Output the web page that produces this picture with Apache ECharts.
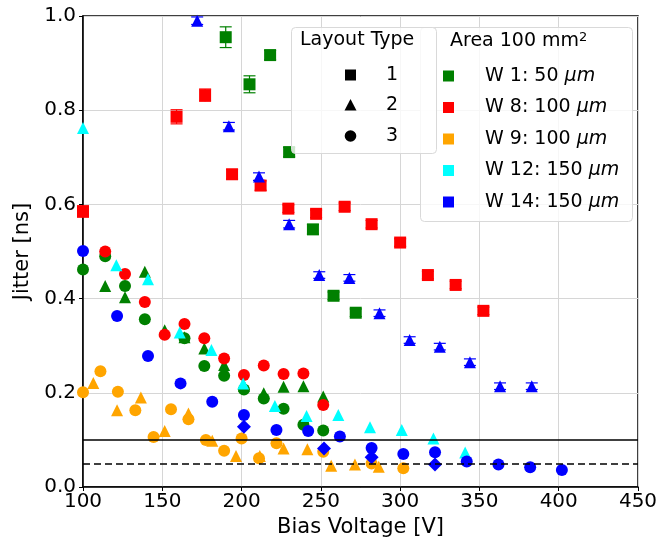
<!DOCTYPE html>
<html><head><meta charset="utf-8">
<script src="https://cdn.jsdelivr.net/npm/echarts@6/dist/echarts.min.js"></script>
<style>html,body{margin:0;padding:0;background:#fff}#c{width:661px;height:546px}</style>
</head><body><div id="c"></div>
<script>
// ---------- data ----------
const xTicks = [100,150,200,250,300,350,400,450];
const yTicks = [0.0,0.2,0.4,0.6,0.8,1.0];
const waferNames = ['W 1: 50', 'W 8: 100', 'W 9: 100', 'W 12: 150', 'W 14: 150'];
const waferColors = ['#008000', '#ff0000', '#ffa500', '#00ffff', '#0000ff'];
const layoutNames = ['1', '2', '3'];
const refLines = [0.1, 0.05];

// W1
const w1L1_V = [190, 205, 218, 230, 245, 258, 272];
const w1L1_J = [0.955, 0.855, 0.917, 0.711, 0.547, 0.406, 0.370];
const w1L1_E = [0.022, 0.018, 0.010, 0.010, 0.010, 0.008, 0.008];
const w1L2_V = [114, 126.5, 139, 151.5, 164, 176.5, 189, 201.5, 214, 226.5, 239, 251.5];
const w1L2_J = [0.427, 0.403, 0.457, 0.333, 0.318, 0.294, 0.259, 0.215, 0.199, 0.213, 0.214, 0.192];
const w1L3_V = [100, 114, 126.5, 139, 164, 176.5, 189, 201.5, 214, 226.5, 239, 251.5];
const w1L3_J = [0.462, 0.490, 0.427, 0.356, 0.316, 0.257, 0.236, 0.207, 0.188, 0.166, 0.132, 0.120];
// W8
const w8L1_V = [100, 159, 177, 194, 212, 229.5, 247, 265, 282, 300, 317.5, 335, 352.5];
const w8L1_J = [0.585, 0.786, 0.832, 0.664, 0.640, 0.591, 0.580, 0.595, 0.558, 0.519, 0.450, 0.429, 0.374];
const w8L1_E = [0.012, 0.015, 0.013, 0.010, 0.010, 0.008, 0.008, 0.008, 0.008, 0.008, 0.008, 0.008, 0.008];
const w8L3_V = [114, 126.5, 139, 151.5, 164, 176.5, 189, 201.5, 214, 226.5, 239, 251.5];
const w8L3_J = [0.500, 0.452, 0.393, 0.323, 0.346, 0.316, 0.273, 0.238, 0.258, 0.240, 0.241, 0.174];
// W9
const w9L2_V = [106.5, 121.5, 136.5, 151.5, 166.5, 181.5, 196.5, 211.5, 226.5, 241.5, 256.5, 271.5, 286.5];
const w9L2_J = [0.221, 0.163, 0.190, 0.119, 0.156, 0.098, 0.066, 0.066, 0.082, 0.080, 0.045, 0.048, 0.043];
const w9L3_V = [100, 111, 122, 133, 144.5, 155.5, 166.5, 177.5, 189, 200, 211, 222, 251.5, 282, 302];
const w9L3_J = [0.201, 0.246, 0.202, 0.163, 0.106, 0.165, 0.144, 0.100, 0.077, 0.103, 0.061, 0.093, 0.075, 0.050, 0.040];
// W12
const w12L2_V = [100, 121, 141, 161, 181, 201, 221, 241, 261, 281, 301, 321, 341];
const w12L2_J = [0.762, 0.471, 0.441, 0.328, 0.291, 0.220, 0.172, 0.151, 0.153, 0.127, 0.121, 0.103, 0.073];
// W14
const w14L2_V = [172, 192, 211, 230, 249, 268, 287, 306, 325, 344, 363, 383];
const w14L2_J = [0.990, 0.766, 0.659, 0.558, 0.450, 0.444, 0.369, 0.312, 0.298, 0.265, 0.214, 0.214];
const w14L2_E = [0.008, 0.008, 0.008, 0.008, 0.007, 0.007, 0.007, 0.007, 0.007, 0.007, 0.007, 0.007];
const w14L3_V = [100, 121.5, 141, 161.5, 181.5, 201.5, 222, 242, 262, 282, 302, 322, 342, 362, 382, 402];
const w14L3_J = [0.501, 0.363, 0.278, 0.220, 0.181, 0.153, 0.121, 0.119, 0.107, 0.083, 0.070, 0.074, 0.054, 0.048, 0.042, 0.036];
const w14L3b_V = [201.5, 252, 282, 322];
const w14L3b_J = [0.128, 0.082, 0.063, 0.048];

// ---------- chart ----------
const zip = (a, b) => a.map((v, i) => [v, b[i]]);
const zip3 = (a, b, c) => a.map((v, i) => [v, b[i], c[i]]);
const FONT = 'DejaVu Sans';

function scatter(name, V, J, color, symbol, size) {
  return { name, type: 'scatter', data: zip(V, J), symbol, symbolSize: size,
    itemStyle: { color, opacity: 1 }, z: 3, silent: true, animation: false };
}
function errBars(V, J, E, color) {
  return { type: 'custom', data: zip3(V, J, E), z: 2, silent: true, animation: false,
    renderItem: (p, api) => {
      const x = api.value(0), y = api.value(1), e = api.value(2);
      const a = api.coord([x, y + e]), b = api.coord([x, y - e]);
      const st = { stroke: color, lineWidth: 1.2 };
      return { type: 'group', children: [
        { type: 'line', shape: { x1: a[0], y1: a[1], x2: b[0], y2: b[1] }, style: st },
        { type: 'line', shape: { x1: a[0] - 6, y1: a[1], x2: a[0] + 6, y2: a[1] }, style: st },
        { type: 'line', shape: { x1: b[0] - 6, y1: b[1], x2: b[0] + 6, y2: b[1] }, style: st }
      ]};
    } };
}

const C = waferColors;
const series = [
  errBars(w1L1_V, w1L1_J, w1L1_E, C[0]),
  scatter('w1L1', w1L1_V, w1L1_J, C[0], 'rect', 12),
  scatter('w1L2', w1L2_V, w1L2_J, C[0], 'triangle', 12),
  scatter('w1L3', w1L3_V, w1L3_J, C[0], 'circle', 12),
  errBars(w8L1_V, w8L1_J, w8L1_E, C[1]),
  scatter('w8L1', w8L1_V, w8L1_J, C[1], 'rect', 12),
  scatter('w8L3', w8L3_V, w8L3_J, C[1], 'circle', 12),
  scatter('w9L2', w9L2_V, w9L2_J, C[2], 'triangle', 12),
  scatter('w9L3', w9L3_V, w9L3_J, C[2], 'circle', 12),
  scatter('w12L2', w12L2_V, w12L2_J, C[3], 'triangle', 12),
  errBars(w14L2_V, w14L2_J, w14L2_E, C[4]),
  scatter('w14L2', w14L2_V, w14L2_J, C[4], 'triangle', 12),
  scatter('w14L3', w14L3_V, w14L3_J, C[4], 'circle', 12),
  scatter('w14L3b', w14L3b_V, w14L3b_J, C[4], 'diamond', 14),
  { type: 'line', data: [], silent: true, animation: false,
    markLine: { silent: true, symbol: 'none', label: { show: false }, animation: false,
      data: [
        { yAxis: refLines[0], lineStyle: { color: '#000', width: 1.5, type: 'solid' } },
        { yAxis: refLines[1], lineStyle: { color: '#000', width: 1.5, type: [7, 4] } }
      ] } }
];

// legend graphics
const LFS = 19;
const graphic = [];
// box 2 (area/wafer) first, box 1 on top
graphic.push({ type: 'rect', left: 420, top: 27, shape: { width: 212, height: 194, r: 4 },
  style: { fill: 'rgba(255,255,255,0.8)', stroke: '#d9d9d9', lineWidth: 1 }, z: 100 });
graphic.push({ type: 'text', left: 450, top: 31, z: 101,
  style: { text: 'Area 100 mm{s|2}', font: `${LFS}px "${FONT}"`, fill: '#000',
    rich: { s: { fontSize: 13, fontFamily: FONT, verticalAlign: 'top', padding: [0, 0, 8, 0] } } } });
waferNames.forEach((n, i) => {
  const cy = 76 + i * 31.5;
  graphic.push({ type: 'rect', shape: { x: 443, y: cy - 5.5, width: 11, height: 11 },
    style: { fill: waferColors[i] }, z: 101 });
  graphic.push({ type: 'text', x: 485, y: cy, z: 101,
    style: { text: n + ' {i|μm}', font: `${LFS}px "${FONT}"`, fill: '#000', verticalAlign: 'middle',
      rich: { i: { fontStyle: 'italic', fontSize: LFS, fontFamily: FONT } } } });
});
graphic.push({ type: 'rect', left: 291, top: 27, shape: { width: 145, height: 126, r: 4 },
  style: { fill: 'rgba(255,255,255,0.8)', stroke: '#d9d9d9', lineWidth: 1 }, z: 102 });
graphic.push({ type: 'text', left: 300, top: 31, z: 103,
  style: { text: 'Layout Type', font: `${LFS}px "${FONT}"`, fill: '#000' } });
layoutNames.forEach((n, i) => {
  const cy = 75 + i * 30.5;
  let el;
  if (i === 0) el = { type: 'rect', shape: { x: 345, y: cy - 5.5, width: 11, height: 11 } };
  else if (i === 1) el = { type: 'polygon', shape: { points: [[350.5, cy - 6.5], [356.5, cy + 5], [344.5, cy + 5]] } };
  else el = { type: 'circle', shape: { cx: 350.5, cy: cy, r: 5.8 } };
  el.style = { fill: '#000' }; el.z = 103;
  graphic.push(el);
  graphic.push({ type: 'text', x: 386, y: cy, z: 103,
    style: { text: n, font: `${LFS}px "${FONT}"`, fill: '#000', verticalAlign: 'middle' } });
});

const chart = echarts.init(document.getElementById('c'), null, { renderer: 'canvas' });
chart.setOption({
  animation: false,
  backgroundColor: '#fff',
  textStyle: { fontFamily: FONT },
  grid: { left: 83, right: 23, top: 16, bottom: 59, show: true, borderColor: '#000', borderWidth: 1.5, backgroundColor: 'transparent' },
  xAxis: { type: 'value', min: xTicks[0], max: xTicks[xTicks.length - 1], interval: 50,
    name: 'Bias Voltage [V]', nameLocation: 'middle', nameGap: 30,
    nameTextStyle: { fontSize: 21, color: '#000', fontFamily: FONT },
    axisLine: { show: true, lineStyle: { color: '#000', width: 1.5 } },
    axisTick: { show: true, inside: false, length: 4, lineStyle: { color: '#000' } },
    axisLabel: { fontSize: 20, color: '#000', margin: 5, fontFamily: FONT },
    splitLine: { show: true, lineStyle: { color: '#d6d6d6', width: 1 } } },
  yAxis: { type: 'value', min: yTicks[0], max: yTicks[yTicks.length - 1], interval: 0.2,
    name: 'Jitter [ns]', nameLocation: 'middle', nameGap: 42,
    nameTextStyle: { fontSize: 21, color: '#000', fontFamily: FONT },
    axisLine: { show: true, lineStyle: { color: '#000', width: 1.5 } },
    axisTick: { show: true, inside: false, length: 4, lineStyle: { color: '#000' } },
    axisLabel: { fontSize: 20, color: '#000', margin: 7, fontFamily: FONT, formatter: v => v.toFixed(1) },
    splitLine: { show: true, lineStyle: { color: '#d6d6d6', width: 1 } } },
  series,
  graphic
});
</script></body></html>
